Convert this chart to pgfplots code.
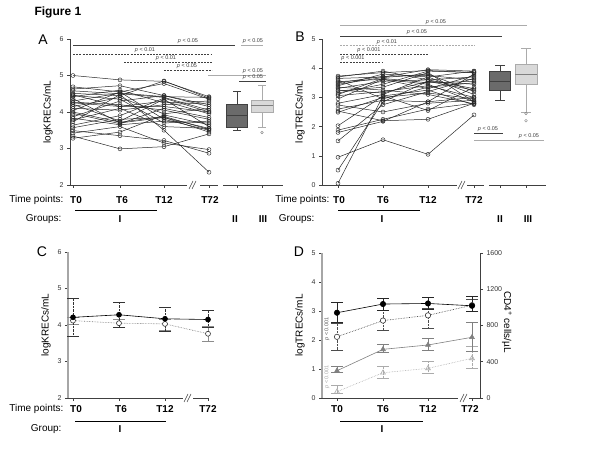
\documentclass[border=0pt]{standalone}
\usepackage{pgfplots}
\pgfplotsset{compat=1.18}
\usepackage{fontspec}
\setmainfont{Liberation Sans}
\definecolor{dk}{HTML}{404040}
\definecolor{md}{HTML}{808080}
\definecolor{lt}{HTML}{ABABAB}
\newcommand{\pv}[1]{\textit{p} < #1}
\begin{document}
\begin{tikzpicture}
\useasboundingbox (0,0) rectangle (600pt,450pt);
\pgfplotsset{
  panel/.style={scale only axis, clip=false,
    axis y line*=left, axis x line*=bottom, x axis line style={draw=none},
    y axis line style={draw=dk, line width=0.6pt},
    tick align=outside, major tick length=3pt,
    tick style={dk, line width=0.5pt},
    xticklabels={},
    tick label style={font=\fontsize{7}{8}\selectfont, text=black!80},
    /pgf/number format/assume math mode=true,
    ylabel style={font=\fontsize{10}{12}\selectfont}},
  subj/.style={color=black!85, line width=0.5pt, mark=o, mark size=2pt, mark options={line width=0.45pt}},
  dkbox/.style={draw=dk, fill=black!58, line width=0.6pt, mark=none},
  dkline/.style={draw=dk, line width=0.6pt, mark=none},
  dkmed/.style={draw=dk, line width=1pt, mark=none},
  ltbox/.style={draw=lt, fill=black!15, line width=0.6pt, mark=none},
  ltline/.style={draw=lt, line width=0.7pt, mark=none},
  ltmed/.style={draw=md, line width=1pt, mark=none},
  outl/.style={only marks, mark=o, mark size=1.3pt, draw=md},
}
% ---------------- Panel A ----------------
\begin{axis}[panel, at={(70pt,265pt)}, anchor=south west, width=213pt, height=146pt,
  xmin=70, xmax=283, ymin=2, ymax=6, ytick={2,3,4,5,6},
  xtick={73,120,164,209,237,262}, ylabel={logKRECs/mL}]
\addplot[subj] coordinates {(73,5.00)(120,4.88)(164,4.84)(209,4.42)};
\addplot[subj] coordinates {(73,4.69)(120,4.55)(164,4.78)(209,4.35)};
\addplot[subj] coordinates {(73,4.63)(120,4.72)(164,4.45)(209,4.20)};
\addplot[subj] coordinates {(73,4.58)(120,4.50)(164,4.40)(209,4.05)};
\addplot[subj] coordinates {(73,4.51)(120,4.45)(164,4.85)(209,4.38)};
\addplot[subj] coordinates {(73,4.47)(120,4.15)(164,4.30)(209,3.95)};
\addplot[subj] coordinates {(73,4.42)(120,4.60)(164,4.25)(209,4.30)};
\addplot[subj] coordinates {(73,4.37)(120,3.70)(164,3.85)(209,3.55)};
\addplot[subj] coordinates {(73,4.30)(120,4.52)(164,4.42)(209,4.40)};
\addplot[subj] coordinates {(73,4.27)(120,4.20)(164,4.05)(209,3.80)};
\addplot[subj] coordinates {(73,4.21)(120,3.75)(164,4.35)(209,3.60)};
\addplot[subj] coordinates {(73,4.15)(120,4.40)(164,3.95)(209,4.10)};
\addplot[subj] coordinates {(73,4.10)(120,4.05)(164,4.20)(209,4.25)};
\addplot[subj] coordinates {(73,4.04)(120,4.55)(164,3.80)(209,3.50)};
\addplot[subj] coordinates {(73,3.96)(120,3.68)(164,4.10)(209,3.85)};
\addplot[subj] coordinates {(73,3.87)(120,4.30)(164,4.45)(209,4.15)};
\addplot[subj] coordinates {(73,3.83)(120,3.65)(164,3.75)(209,3.70)};
\addplot[subj] coordinates {(73,3.78)(120,4.10)(164,3.60)(209,3.55)};
\addplot[subj] coordinates {(73,3.73)(120,4.48)(164,3.50)(209,2.35)};
\addplot[subj] coordinates {(73,3.64)(120,3.90)(164,4.38)(209,4.00)};
\addplot[subj] coordinates {(73,3.57)(120,3.80)(164,3.85)(209,3.45)};
\addplot[subj] coordinates {(73,3.49)(120,3.35)(164,3.22)(209,2.87)};
\addplot[subj] coordinates {(73,3.42)(120,3.60)(164,3.15)(209,2.97)};
\addplot[subj] coordinates {(73,3.34)(120,2.99)(164,3.05)(209,3.40)};
\addplot[subj] coordinates {(73,3.28)(120,3.45)(164,3.92)(209,3.65)};
\addplot[subj] coordinates {(73,4.25)(120,4.15)(164,4.15)(209,4.00)};
\addplot[subj] coordinates {(73,4.45)(120,4.35)(164,3.70)(209,3.75)};
\addplot[subj] coordinates {(73,4.00)(120,3.72)(164,3.88)(209,3.52)};
% group II box (whiskers 3.49-4.58, quartiles 3.57-4.21, median 3.90)
\addplot[dkline] coordinates {(237,4.21)(237,4.58)};
\addplot[dkline] coordinates {(233,4.58)(241,4.58)};
\addplot[dkline] coordinates {(237,3.57)(237,3.49)};
\addplot[dkline] coordinates {(233,3.49)(241,3.49)};
\addplot[dkbox] coordinates {(226.5,3.57)(247.5,3.57)(247.5,4.21)(226.5,4.21)} -- cycle;
\addplot[dkmed] coordinates {(226.5,3.90)(247.5,3.90)};
% group III box (whiskers 3.59-4.72, quartiles 3.98-4.33, median 4.19)
\addplot[ltline] coordinates {(262,4.33)(262,4.72)};
\addplot[ltline] coordinates {(258,4.72)(266,4.72)};
\addplot[ltline] coordinates {(262,3.98)(262,3.59)};
\addplot[ltline] coordinates {(258,3.59)(266,3.59)};
\addplot[ltbox] coordinates {(251,3.98)(273,3.98)(273,4.33)(251,4.33)} -- cycle;
\addplot[ltmed] coordinates {(251,4.19)(273,4.19)};
\addplot[outl] coordinates {(262,3.44)};
\end{axis}
% ---------------- Panel B ----------------
\begin{axis}[panel, at={(322pt,265pt)}, anchor=south west, width=224pt, height=146pt,
  xmin=322, xmax=546, ymin=0, ymax=5, ytick={0,1,2,3,4,5},
  xtick={338,383,428,474,500,526}, ylabel={logTRECs/mL}]
\addplot[subj] coordinates {(338,3.73)(383,3.85)(428,3.92)(474,3.85)};
\addplot[subj] coordinates {(338,3.65)(383,3.70)(428,3.95)(474,3.90)};
\addplot[subj] coordinates {(338,3.54)(383,3.62)(428,3.30)(474,3.75)};
\addplot[subj] coordinates {(338,3.45)(383,3.68)(428,3.80)(474,3.20)};
\addplot[subj] coordinates {(338,3.31)(383,3.55)(428,3.60)(474,3.70)};
\addplot[subj] coordinates {(338,3.22)(383,3.35)(428,3.85)(474,2.85)};
\addplot[subj] coordinates {(338,3.10)(383,3.65)(428,3.50)(474,3.55)};
\addplot[subj] coordinates {(338,3.06)(383,3.20)(428,3.40)(474,3.00)};
\addplot[subj] coordinates {(338,2.80)(383,3.10)(428,3.70)(474,3.10)};
\addplot[subj] coordinates {(338,2.74)(383,2.50)(428,2.80)(474,2.90)};
\addplot[subj] coordinates {(338,2.53)(383,2.20)(428,2.25)(474,2.80)};
\addplot[subj] coordinates {(338,2.49)(383,3.00)(428,3.15)(474,2.95)};
\addplot[subj] coordinates {(338,2.03)(383,3.05)(428,2.55)(474,3.35)};
\addplot[subj] coordinates {(338,1.88)(383,2.25)(428,2.60)(474,2.80)};
\addplot[subj] coordinates {(338,1.80)(383,2.18)(428,2.85)(474,3.80)};
\addplot[subj] coordinates {(338,1.51)(383,2.75)(428,3.20)(474,3.65)};
\addplot[subj] coordinates {(338,0.95)(383,1.55)(428,1.05)(474,2.40)};
\addplot[subj] coordinates {(338,0.51)(383,2.85)(428,3.55)(474,3.45)};
\addplot[subj] coordinates {(338,0.06)(383,3.05)(428,3.25)(474,2.75)};
\addplot[subj] coordinates {(338,3.70)(383,3.90)(428,3.60)(474,3.30)};
\addplot[subj] coordinates {(338,3.50)(383,3.72)(428,3.75)(474,3.60)};
\addplot[subj] coordinates {(338,3.35)(383,3.25)(428,3.10)(474,2.78)};
\addplot[subj] coordinates {(338,3.15)(383,3.45)(428,3.90)(474,3.85)};
\addplot[subj] coordinates {(338,2.95)(383,3.62)(428,3.45)(474,2.85)};
\addplot[subj] coordinates {(338,3.60)(383,2.95)(428,3.35)(474,3.50)};
\addplot[subj] coordinates {(338,3.40)(383,3.80)(428,3.70)(474,3.90)};
\addplot[subj] coordinates {(338,2.60)(383,2.90)(428,2.85)(474,3.00)};
\addplot[subj] coordinates {(338,3.25)(383,3.15)(428,3.55)(474,3.25)};
% group II box (whiskers 2.91-4.10, quartiles 3.24-3.88, median 3.55)
\addplot[dkline] coordinates {(500,3.88)(500,4.10)};
\addplot[dkline] coordinates {(495,4.10)(505,4.10)};
\addplot[dkline] coordinates {(500,3.24)(500,2.91)};
\addplot[dkline] coordinates {(495,2.91)(505,2.91)};
\addplot[dkbox] coordinates {(489.5,3.24)(510.5,3.24)(510.5,3.88)(489.5,3.88)} -- cycle;
\addplot[dkmed] coordinates {(489.5,3.55)(510.5,3.55)};
% group III box (whiskers 2.50-4.69, quartiles 3.46-4.14, median 3.80)
\addplot[ltline] coordinates {(526,4.14)(526,4.69)};
\addplot[ltline] coordinates {(521,4.69)(531,4.69)};
\addplot[ltline] coordinates {(526,3.46)(526,2.50)};
\addplot[ltline] coordinates {(521,2.50)(531,2.50)};
\addplot[ltbox] coordinates {(515,3.46)(537,3.46)(537,4.14)(515,4.14)} -- cycle;
\addplot[ltmed] coordinates {(515,3.80)(537,3.80)};
\addplot[outl] coordinates {(526,2.45)(526,2.20)};
\end{axis}
% ---------------- Panel C ----------------
\begin{axis}[panel, at={(68pt,52pt)}, anchor=south west, width=147pt, height=146pt,
  xmin=68, xmax=215, ymin=2, ymax=6, ytick={2,3,4,5,6},
  y axis line style={draw=black!35, line width=1.2pt},
  xtick={73,119,165,208}, ylabel={logKRECs/mL},
  error bars/error mark options={rotate=90, mark size=6pt, line width=0.5pt}]
\addplot[color=black!55, densely dotted, line width=0.6pt, mark=*, mark size=2.5pt,
  mark options={solid, fill=white, draw=black!80},
  error bars/.cd, y dir=both, y explicit, error bar style={color=black!45, solid, line width=0.8pt}]
  coordinates {(73,4.12) +- (0,0.10) (119,4.05) += (0,0.10) -= (0,0.12)
               (165,4.03) += (0,0.12) -= (0,0.18) (208,3.76) += (0,0.20) -= (0,0.21)};
\addplot[color=black, line width=0.6pt, mark=*, mark size=2.5pt,
  error bars/.cd, y dir=both, y explicit, error bar style={color=black!80, densely dotted, line width=0.5pt}]
  coordinates {(73,4.21) += (0,0.52) -= (0,0.51) (119,4.28) += (0,0.34) -= (0,0.35)
               (165,4.17) += (0,0.33) -= (0,0.34) (208,4.15) += (0,0.26) -= (0,0.21)};
\end{axis}
% ---------------- Panel D ----------------
\begin{axis}[panel, at={(322pt,52pt)}, anchor=south west, width=158pt, height=145pt,
  xmin=322, xmax=480, ymin=0, ymax=5, ytick={0,1,2,3,4,5},
  y axis line style={draw=black!35, line width=1.2pt},
  xtick={337,383,428,472}, ylabel={logTRECs/mL},
  error bars/error mark options={rotate=90, mark size=6pt, line width=0.5pt}]
\addplot[color=black!80, densely dotted, line width=0.6pt, mark=*, mark size=2.7pt,
  mark options={solid, fill=white, draw=black!80},
  error bars/.cd, y dir=both, y explicit, error bar style={color=black!70, densely dotted, line width=0.5pt}]
  coordinates {(337,2.11) +- (0,0.48) (383,2.67) += (0,0.36) -= (0,0.33)
               (428,2.85) += (0,0.24) -= (0,0.45) (472,3.20) +- (0,0.20)};
\addplot[color=black, line width=0.6pt, mark=*, mark size=2.7pt,
  error bars/.cd, y dir=both, y explicit, error bar style={color=black!85, solid, line width=0.5pt}]
  coordinates {(337,2.94) += (0,0.36) -= (0,0.33) (383,3.24) += (0,0.20) -= (0,0.21)
               (428,3.26) += (0,0.20) -= (0,0.21) (472,3.18) += (0,0.34) -= (0,0.20)};
\end{axis}
\begin{axis}[scale only axis, clip=false, at={(322pt,52pt)}, anchor=south west, width=158pt, height=145pt,
  xmin=322, xmax=480, ymin=0, ymax=1600, ytick={0,400,800,1200,1600},
  axis y line*=right, axis x line=none, y axis line style={draw=dk, line width=0.6pt},
  tick align=outside, major tick length=3pt, tick style={dk, line width=0.5pt},
  tick label style={font=\fontsize{7}{8}\selectfont, text=black!80},
  /pgf/number format/assume math mode=true, /pgf/number format/1000 sep={},
  error bars/error mark options={rotate=90, mark size=6pt, line width=0.5pt}]
\addplot[color=lt, densely dotted, line width=0.6pt, mark=triangle, mark size=2.8pt,
  mark options={solid},
  error bars/.cd, y dir=both, y explicit, error bar style={color=lt, densely dotted, line width=0.5pt}]
  coordinates {(337,70) += (0,73) -= (0,15) (383,279) += (0,66) -= (0,62)
               (428,327) += (0,73) -= (0,55) (472,438) += (0,128) -= (0,111)};
\addplot[color=md, line width=0.6pt, mark=triangle*, mark size=2.8pt,
  error bars/.cd, y dir=both, y explicit, error bar style={color=md, solid, line width=0.5pt}]
  coordinates {(337,301) += (0,52) -= (0,22) (383,537) += (0,55) -= (0,37)
               (428,585) += (0,69) -= (0,55) (472,670) += (0,165) -= (0,150)};
\end{axis}
% ---------------- Annotations (pixel coordinates) ----------------
\begin{scope}[x=1pt, y=-1pt, yshift=450pt]
\node[anchor=west, font=\bfseries\fontsize{12}{14}\selectfont] at (31,12) {Figure 1};
\foreach \l/\x/\y in {A/43/40, B/300/37, C/42/252, D/299/252}
  \node[font=\fontsize{14}{16}\selectfont] at (\x,\y) {\l};
\node[rotate=-90, font=\fontsize{10}{12}\selectfont] at (507,322) {CD4\textsuperscript{+} cells/µL};
% axis segments
\draw[dk, line width=0.6pt] (68,185)--(187,185) (200,185)--(218,185) (223,185)--(283,185);
\draw[dk, line width=0.5pt] (189,189)--(193,181) (192,189)--(196,181);
\draw[dk, line width=0.6pt] (322,185)--(457,185) (467,185)--(484,185) (489,185)--(546,185);
\draw[dk, line width=0.5pt] (458,189)--(462,181) (461,189)--(465,181);
\draw[dk, line width=0.6pt] (68,398)--(183,398) (193,398)--(209,398);
\draw[dk, line width=0.5pt] (184,402)--(188,394) (187,402)--(191,394);
\draw[dk, line width=0.6pt] (322,398)--(458,398) (469,398)--(480,398);
\draw[dk, line width=0.5pt] (460,402)--(464,394) (463,402)--(467,394);
% x labels
\begin{scope}[font=\fontsize{10}{12}\selectfont]
\node[anchor=east] at (67,200) {Time points:};
\node[anchor=east] at (65,219) {Groups:};
\node[anchor=east] at (333,200) {Time points:};
\node[anchor=east] at (318,219) {Groups:};
\node[anchor=east] at (67,409) {Time points:};
\node[anchor=east] at (65,429) {Group:};
\end{scope}
\begin{scope}[font=\bfseries\fontsize{10}{12}\selectfont]
\foreach \t/\x in {T0/76, T6/122, T12/164, T72/210} \node at (\x,200) {\t};
\foreach \t/\x in {I/120, II/235, III/263} \node at (\x,219) {\t};
\foreach \t/\x in {T0/339, T6/383, T12/428, T72/474} \node at (\x,200) {\t};
\foreach \t/\x in {I/382, II/500, III/528} \node at (\x,219) {\t};
\foreach \t/\x in {T0/76, T6/121, T12/165, T72/208} \node at (\x,409) {\t};
\node at (120,429) {I};
\foreach \t/\x in {T0/337, T6/383, T12/428, T72/470} \node at (\x,409) {\t};
\node at (382,429) {I};
\end{scope}
\draw[black, line width=0.5pt] (75,210)--(157,210) (338,210)--(420,210) (75,421)--(166,421) (340,421)--(423,421);
% significance bars
\begin{scope}[font=\fontsize{5.5}{6}\selectfont, text=black!75, pdash/.style={dash pattern=on 2pt off 1.2pt}]
\draw[dk, line width=0.5pt] (73,45)--(235,45); \node at (188,41.5) {\pv{0.05}};
\draw[lt, line width=0.8pt] (241,45)--(263,45); \node at (253,41.5) {\pv{0.05}};
\draw[dk, pdash, line width=0.45pt] (73,54)--(212,54); \node at (145,50.5) {\pv{0.01}};
\draw[dk, pdash, line width=0.45pt] (124,62)--(212,62); \node at (166,58.5) {\pv{0.01}};
\draw[dk, pdash, line width=0.45pt] (164,70)--(212,70); \node at (187,66.5) {\pv{0.05}};
\draw[lt, line width=0.8pt] (208,75)--(266,75); \node at (253,71) {\pv{0.05}};
\draw[dk, line width=0.5pt] (239,81)--(266,81); \node at (253,77.5) {\pv{0.05}};
\draw[lt, line width=0.8pt] (340,25.7)--(527,25.7); \node at (436,22) {\pv{0.05}};
\draw[dk, line width=0.5pt] (340,36)--(502,36); \node at (417,32.5) {\pv{0.05}};
\draw[lt, pdash, line width=0.8pt] (340,45.7)--(475,45.7); \node at (387,42) {\pv{0.01}};
\draw[dk, pdash, line width=0.45pt] (340,54)--(428,54); \node at (369,50.5) {\pv{0.001}};
\draw[dk, pdash, line width=0.45pt] (340,62)--(383,62); \node at (353,58.5) {\pv{0.001}};
\draw[dk, line width=0.5pt] (474,133)--(503,133); \node at (488,129.5) {\pv{0.05}};
\draw[lt, line width=0.8pt] (474,140)--(544,140); \node at (529,136.5) {\pv{0.05}};
\node[rotate=90, text=black!65] at (327,329) {\pv{0.001}};
\node[rotate=90, text=black!35] at (327,377) {\pv{0.001}};
\end{scope}
\end{scope}
\end{tikzpicture}
\end{document}
